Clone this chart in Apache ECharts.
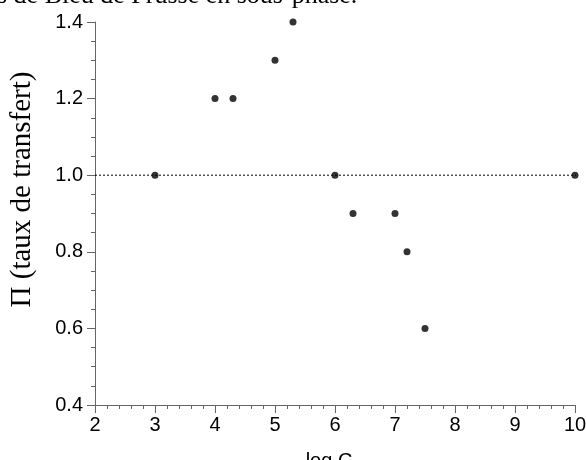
<!DOCTYPE html>
<html>
<head>
<meta charset="utf-8">
<script src="https://cdn.jsdelivr.net/npm/echarts@6/dist/echarts.min.js"></script>
<style>html,body{margin:0;padding:0;background:#fff;overflow:hidden}#c{width:586px;height:460px}</style>
</head>
<body>
<div id="c"></div>
<script>
var titleText = 's de Bleu de Prusse en sous-phase.';
var xName = 'log C';
var yName = 'Π (taux de transfert)';
var logC = [3, 4, 4.3, 5, 5.3, 6, 6.3, 7, 7.2, 7.5, 10];
var transfer = [1.0, 1.2, 1.2, 1.3, 1.4, 1.0, 0.9, 0.9, 0.8, 0.6, 1.0];
var refX = [2, 10.13];
var refY = [1.0, 1.0];

var chart = echarts.init(document.getElementById('c'), null, {renderer: 'canvas', width: 586, height: 460});
var axisCol = '#666';
chart.setOption({
  animation: false,
  backgroundColor: '#fff',
  grid: {left: 95, right: 11, top: 22, bottom: 55, containLabel: false, outerBoundsMode: 'none'},
  graphic: [{
    type: 'text', left: -3, top: -17,
    style: {text: titleText, font: '26px "Liberation Serif", "Times New Roman", serif', fill: '#000'}
  }],
  xAxis: {
    type: 'value', min: 2, max: 10, interval: 1,
    name: xName, nameLocation: 'middle', nameGap: 46,
    nameTextStyle: {fontFamily: '"Liberation Sans", Arial, sans-serif', fontSize: 20, color: '#000', padding: [0, 12, 0, 0]},
    axisLine: {onZero: false, lineStyle: {color: axisCol, width: 1}},
    axisTick: {show: true, inside: false, length: 8, lineStyle: {color: axisCol}},
    minorTick: {show: true, splitNumber: 5, length: 4, lineStyle: {color: axisCol}},
    splitLine: {show: false},
    axisLabel: {fontFamily: '"Liberation Sans", Arial, sans-serif', fontSize: 20, color: '#000', margin: 10}
  },
  yAxis: {
    type: 'value', min: 0.4, max: 1.4, interval: 0.2,
    name: yName, nameLocation: 'middle', nameGap: 58, nameRotate: 90,
    nameTextStyle: {fontFamily: '"Liberation Serif", "Times New Roman", serif', fontSize: 29, color: '#000', padding: [0, 0, 0, 48]},
    axisLine: {show: true, onZero: false, lineStyle: {color: axisCol, width: 1}},
    axisTick: {show: true, inside: false, length: 8, lineStyle: {color: axisCol}},
    minorTick: {show: true, splitNumber: 4, length: 4, lineStyle: {color: axisCol}},
    splitLine: {show: false},
    axisLabel: {fontFamily: '"Liberation Sans", Arial, sans-serif', fontSize: 20, color: '#000', margin: 12,
      formatter: function (v) { return v.toFixed(1); }}
  },
  series: [{
    type: 'line', data: refX.map(function (x, i) { return [x, refY[i]]; }),
    symbol: 'none', clip: false, silent: true,
    lineStyle: {color: '#000', width: 1, type: [2, 2]}
  }, {
    type: 'scatter', data: logC.map(function (x, i) { return [x, transfer[i]]; }),
    symbol: 'circle', symbolSize: 7, clip: false,
    itemStyle: {color: '#000'}
  }]
});
</script>
</body>
</html>
